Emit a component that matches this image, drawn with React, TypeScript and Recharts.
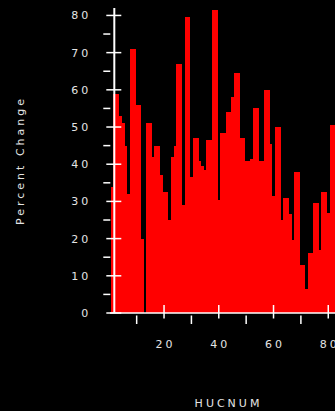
import { BarChart, Bar, XAxis, YAxis, ReferenceLine } from "recharts"

// percent change per HUCNUM (HUCNUM 1..82)
const pctChange = [
  34, 59, 59, 53, 51, 45, 32, 71, 71, 56,
  56, 20, 0, 51, 51, 42, 45, 45, 37, 32.5,
  32.5, 25, 42, 45, 67, 67, 29, 79.5, 79.5, 36.5,
  47, 47, 41, 39.5, 38.5, 46.5, 46.5, 81.5, 81.5, 30.5,
  48.5, 48.5, 54, 54, 58, 64.5, 64.5, 47, 47, 41,
  41, 41.5, 55, 55, 41, 41, 60, 60, 45.5, 31.5,
  50, 50, 25, 31, 31, 26.5, 19.5, 38, 38, 13,
  13, 6.5, 16, 16, 29.5, 29.5, 17, 32.5, 32.5, 27,
  50.5, 50.5,
]
const hucnum = pctChange.map((_, i) => i + 1)

const xTicks = [10, 20, 30, 40, 50, 60, 70, 80]
const xLabels = [20, 40, 60, 80]
const yTicks = [0, 5, 10, 15, 20, 25, 30, 35, 40, 45, 50, 55, 60, 65, 70, 75, 80]
const yLabels = [0, 10, 20, 30, 40, 50, 60, 70, 80]

const data = hucnum.map((h, i) => ({ huc: h, pct: pctChange[i] }))

const FONT = "'DejaVu Sans', sans-serif"
const TEXT = "#e4e4e4"
const AXIS_X = 1.83 // where the vertical axis crosses the x scale
const Y_AXIS_SHIFT = 4.3 // px from plot edge to the drawn axis

function YTick(props: any) {
  const { x, y, payload } = props
  const v = payload.value
  const ax = x + Y_AXIS_SHIFT
  const major = yLabels.includes(v)
  return (
    <g>
      {major ? (
        <line x1={ax - 8} x2={ax + 7} y1={y} y2={y} stroke="#fff" strokeWidth={1.5} />
      ) : (
        <line x1={ax - 11} x2={ax - 4} y1={y} y2={y} stroke="#fff" strokeWidth={1.5} />
      )}
      {major && (
        <text
          x={ax - 23}
          y={y}
          dy={4}
          textAnchor="end"
          fill={TEXT}
          fontFamily={FONT}
          fontSize={11}
          letterSpacing={3}
        >
          {v}
        </text>
      )}
    </g>
  )
}

function XTick(props: any) {
  const { x, y, payload } = props
  const v = payload.value
  const major = xLabels.includes(v)
  return (
    <g>
      {major ? (
        <line x1={x} x2={x} y1={y - 8} y2={y + 5.5} stroke="#fff" strokeWidth={1.5} />
      ) : (
        <line x1={x} x2={x} y1={y + 2.5} y2={y + 11} stroke="#fff" strokeWidth={1.5} />
      )}
      {major && (
        <text
          x={x + 1.5}
          y={y + 35}
          textAnchor="middle"
          fill={TEXT}
          fontFamily={FONT}
          fontSize={11}
          letterSpacing={3}
        >
          {v}
        </text>
      )}
    </g>
  )
}

export default function App() {
  return (
    <div
      style={{
        position: "absolute",
        left: 0,
        top: 0,
        width: 335,
        height: 411,
        background: "#000",
        overflow: "hidden",
      }}
    >
      <style>{`.recharts-bar-rectangle path { shape-rendering: crispEdges; }`}</style>
      <BarChart
        width={335}
        height={411}
        data={data}
        margin={{ top: 8, right: 0, bottom: 0, left: 0 }}
        barCategoryGap={0}
        barGap={0}
      >
        <XAxis
          dataKey="huc"
          type="number"
          domain={[0.256, 82.46]}
          allowDataOverflow
          ticks={xTicks}
          interval={0}
          height={98}
          tickSize={0}
          tickMargin={0}
          tickLine={false}
          axisLine={{ stroke: "#fff", strokeWidth: 1.5 }}
          tick={<XTick />}
          label={{
            value: "HUCNUM",
            position: "insideBottom",
            offset: 4,
            dx: 6,
            fill: TEXT,
            fontFamily: FONT,
            fontSize: 11,
            letterSpacing: 3,
          }}
        />
        <YAxis
          type="number"
          domain={[0, 82]}
          allowDataOverflow
          ticks={yTicks}
          interval={0}
          width={110}
          tickSize={0}
          tickMargin={0}
          tickLine={false}
          axisLine={false}
          tick={<YTick />}
          label={{
            value: "Percent Change",
            angle: -90,
            position: "insideLeft",
            offset: 20,
            fill: TEXT,
            fontFamily: FONT,
            fontSize: 11,
            letterSpacing: 3,
            style: { textAnchor: "middle" },
          }}
        />
        <Bar dataKey="pct" fill="#ff0000" isAnimationActive={false} />
        <ReferenceLine x={AXIS_X} stroke="#fff" strokeWidth={2} />
      </BarChart>
    </div>
  )
}
